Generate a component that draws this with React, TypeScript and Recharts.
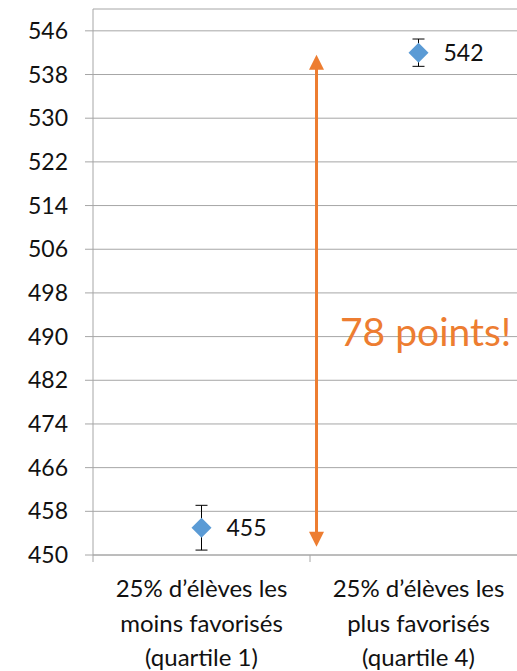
import React from 'react';
import { ScatterChart, Scatter, XAxis, YAxis, CartesianGrid, ErrorBar, ReferenceLine, ReferenceDot } from 'recharts';

// Excel-ish palette
const BLUE = '#5B9BD5';
const ORANGE = '#ED7D31';
const GRID = '#A6A6A6';
const FONT = 'Lato, "Open Sans", sans-serif';

const categoryLines = [
  ['25% d’élèves les', 'moins favorisés', '(quartile 1)'],
  ['25% d’élèves les', 'plus favorisés', '(quartile 4)'],
];
const categoryCenters = [0.5, 1.5];
const categoryBounds = [0, 1, 2];
const scores = [455, 542];
const scoreErrors = [4.1, 2.5];
const yTicks = [450, 458, 466, 474, 482, 490, 498, 506, 514, 522, 530, 538, 546];

// the double arrow between the two groups and its caption
const gapArrowX = 1.03;
const gapArrowFrom = 451.5;
const gapArrowTo = 541.6;
const gapText = '78 points!';
const gapTextPos = { x: 1.138, y: 490.9 };

const data = scores.map((y, i) => ({ x: categoryCenters[i], y, err: scoreErrors[i] }));

const XTick = (props: any) => {
  const { x, y, payload } = props;
  const v = payload.value;
  const bi = categoryBounds.indexOf(v);
  if (bi >= 0) {
    return <line x1={x} x2={x} y1={y} y2={y + 7} stroke={GRID} strokeWidth={1} />;
  }
  const lines = categoryLines[categoryCenters.indexOf(v)] || [];
  return (
    <text x={x} y={y} textAnchor="middle" fill="#111" fontSize={24} fontFamily={FONT}>
      {lines.map((l, i) => (
        <tspan key={i} x={x} dy={i === 0 ? 42 : 34.5}>{l}</tspan>
      ))}
    </text>
  );
};

const Diamond = (props: any) => {
  const { cx, cy, payload } = props;
  const h = 10;
  return (
    <g>
      <polygon points={`${cx},${cy - h} ${cx + h},${cy} ${cx},${cy + h} ${cx - h},${cy}`} fill={BLUE} />
      <text x={cx + 25} y={cy + 8} fontSize={23} fill="#111" fontFamily={FONT}>{payload.y}</text>
    </g>
  );
};

const DoubleArrow = (props: any) => {
  const { x1, y1, y2 } = props;
  const top = Math.min(y1, y2);
  const bot = Math.max(y1, y2);
  const hw = 7.5;
  const hl = 15;
  return (
    <g>
      <line x1={x1} x2={x1} y1={top + hl - 2} y2={bot - hl + 2} stroke={ORANGE} strokeWidth={3} />
      <polygon points={`${x1},${top} ${x1 + hw},${top + hl} ${x1 - hw},${top + hl}`} fill={ORANGE} />
      <polygon points={`${x1},${bot} ${x1 + hw},${bot - hl} ${x1 - hw},${bot - hl}`} fill={ORANGE} />
    </g>
  );
};

const GapCaption = (props: any) => {
  const { cx, cy } = props;
  return (
    <text x={cx} y={cy + 14} fontSize={39} fill={ORANGE} fontFamily={FONT}>{gapText}</text>
  );
};

export default function App() {
  return (
    <div style={{ position: 'absolute', left: 0, top: 0, width: 517, height: 671, overflow: 'hidden', background: '#fff' }}>
      <ScatterChart width={540} height={671} margin={{ top: 9, right: 13, left: 0, bottom: 0 }} style={{ fontFamily: FONT }}>
        <CartesianGrid vertical={false} stroke={GRID} strokeWidth={1} />
        <XAxis
          type="number"
          dataKey="x"
          domain={[0, 2]}
          ticks={[0, 0.5, 1, 1.5, 2]}
          interval={0}
          height={116}
          tickLine={false}
          tickSize={0}
          tickMargin={0}
          axisLine={{ stroke: GRID }}
          tick={<XTick />}
        />
        <YAxis
          type="number"
          dataKey="y"
          domain={[450, 550]}
          ticks={yTicks}
          interval={0}
          width={93}
          tickSize={8}
          tickMargin={17}
          tickLine={{ stroke: GRID }}
          axisLine={{ stroke: GRID }}
          tick={{ fontSize: 23, fill: '#111', fontFamily: FONT }}
        />
        <ReferenceLine
          segment={[{ x: gapArrowX, y: gapArrowFrom }, { x: gapArrowX, y: gapArrowTo }]}
          shape={<DoubleArrow />}
        />
        <ReferenceDot x={gapTextPos.x} y={gapTextPos.y} r={0} shape={<GapCaption />} />
        <Scatter data={data} shape={<Diamond />} isAnimationActive={false}>
          <ErrorBar dataKey="err" direction="y" width={6} stroke="#000" strokeWidth={1} />
        </Scatter>
      </ScatterChart>
    </div>
  );
}
